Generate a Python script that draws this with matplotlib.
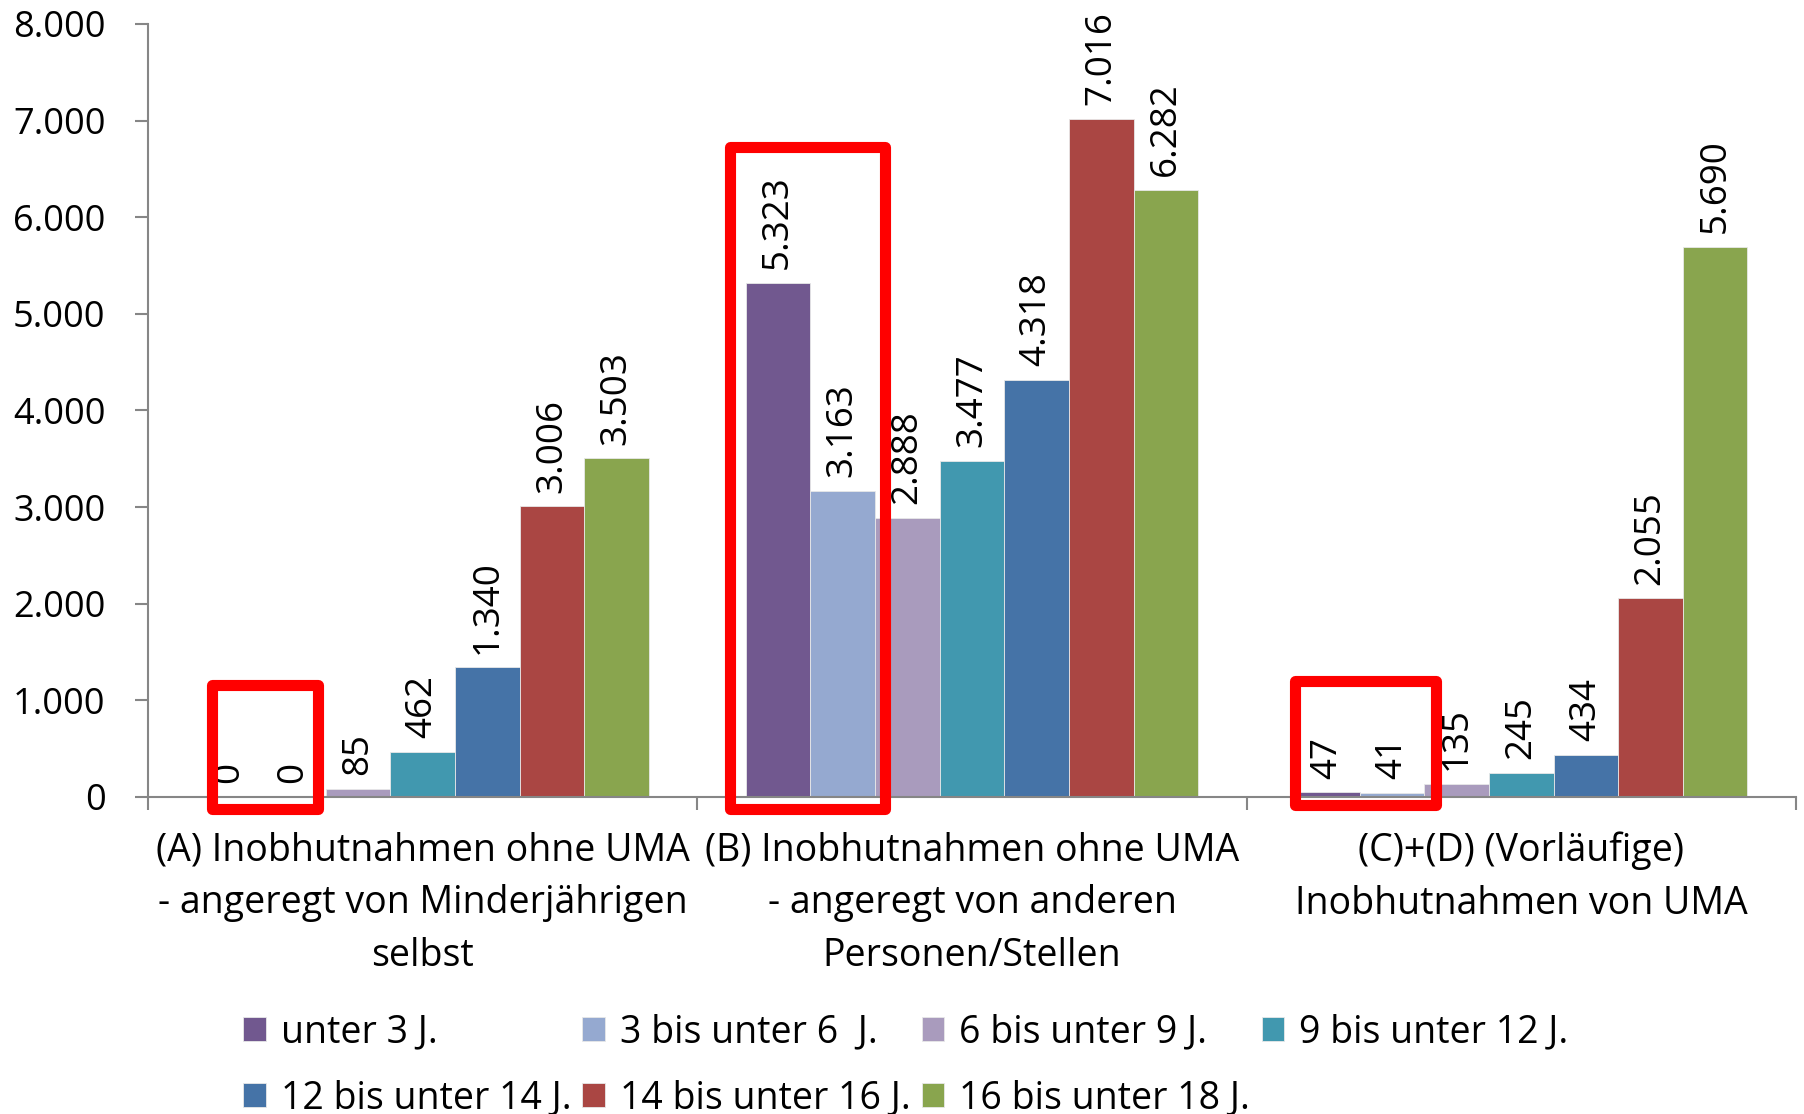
import numpy as np
import matplotlib.pyplot as plt
from matplotlib.patches import Rectangle

plt.rcParams['font.family'] = ['Open Sans', 'DejaVu Sans']

# Daten: Inobhutnahmen nach Alter
kategorien = ["(A) Inobhutnahmen ohne UMA\n- angeregt von Minderjährigen\nselbst",
              "(B) Inobhutnahmen ohne UMA\n- angeregt von anderen\nPersonen/Stellen",
              "(C)+(D) (Vorläufige)\nInobhutnahmen von UMA"]
altersgruppen = ["unter 3 J.", "3 bis unter 6  J.", "6 bis unter 9 J.", "9 bis unter 12 J.",
                 "12 bis unter 14 J.", "14 bis unter 16 J.", "16 bis unter 18 J."]
werte_a = [0, 0, 85, 462, 1340, 3006, 3503]
werte_b = [5323, 3163, 2888, 3477, 4318, 7016, 6282]
werte_c = [47, 41, 135, 245, 434, 2055, 5690]
y_ticks = [0, 1000, 2000, 3000, 4000, 5000, 6000, 7000, 8000]

farben = ['#71588F', '#95A9D0', '#A99BBD', '#4198AF', '#4573A7', '#AA4643', '#89A54E']

werte = np.array([werte_a, werte_b, werte_c])
x = np.arange(len(kategorien))
breite = 0.1176

def fmt(v):
    return f"{v:,}".replace(",", ".")

fig = plt.figure(figsize=(18.04, 11.14), dpi=100)
ax = fig.add_axes([0.082, 0.2846, 0.9136, 0.6939])

handles = []
for i, name in enumerate(altersgruppen):
    pos = x + (i - 3) * breite
    b = ax.bar(pos, werte[:, i], width=breite, color=farben[i], label=name,
               edgecolor='#e8e8e8', linewidth=0.6)
    handles.append(b)
    for xp, v in zip(pos, werte[:, i]):
        ax.annotate(fmt(v), (xp, v), xytext=(0, 10), textcoords='offset points',
                    rotation=90, ha='center', va='bottom', fontsize=26.5,
                    annotation_clip=False)

ax.set_xlim(-0.5, 2.5)
ax.set_ylim(0, 8000)
ax.set_yticks(y_ticks)
ax.set_yticklabels([fmt(t) for t in y_ticks], fontsize=26)

ax.set_xticks([-0.5, 0.5, 1.5, 2.5])
ax.set_xticklabels([])
ax.set_xticks(x, minor=True)
ax.set_xticklabels(kategorien, minor=True, fontsize=27, linespacing=1.5)
ax.tick_params(axis='x', which='minor', length=0, pad=25)
ax.tick_params(axis='x', which='major', length=9, width=1.5, color='#868686', direction='out')
ax.tick_params(axis='y', length=9.5, width=1.5, color='#868686', pad=21)

for s in ['top', 'right']:
    ax.spines[s].set_visible(False)
for s in ['left', 'bottom']:
    ax.spines[s].set_color('#868686')
    ax.spines[s].set_linewidth(1.5)

# rote Markierungen
rahmen = [(-0.3835, -124, 0.193, 1283), (0.5595, -124, 0.2822, 6853), (1.588, -83, 0.257, 1284)]
for rx, ry, rw, rh in rahmen:
    ax.add_patch(Rectangle((rx, ry), rw, rh, fill=False, edgecolor='#FF0000', linewidth=8,
                           joinstyle='round', clip_on=False, zorder=5))

order = [0, 4, 1, 5, 2, 6, 3]
fig.legend([handles[k] for k in order], [altersgruppen[k] for k in order],
           ncol=4, loc='center left', bbox_to_anchor=(0.116, 0.0440), frameon=False,
           fontsize=27, handlelength=0.6, handleheight=0.6, handletextpad=0.4,
           columnspacing=0.3, labelspacing=0.75)

fig.savefig('out.png', dpi=100)
